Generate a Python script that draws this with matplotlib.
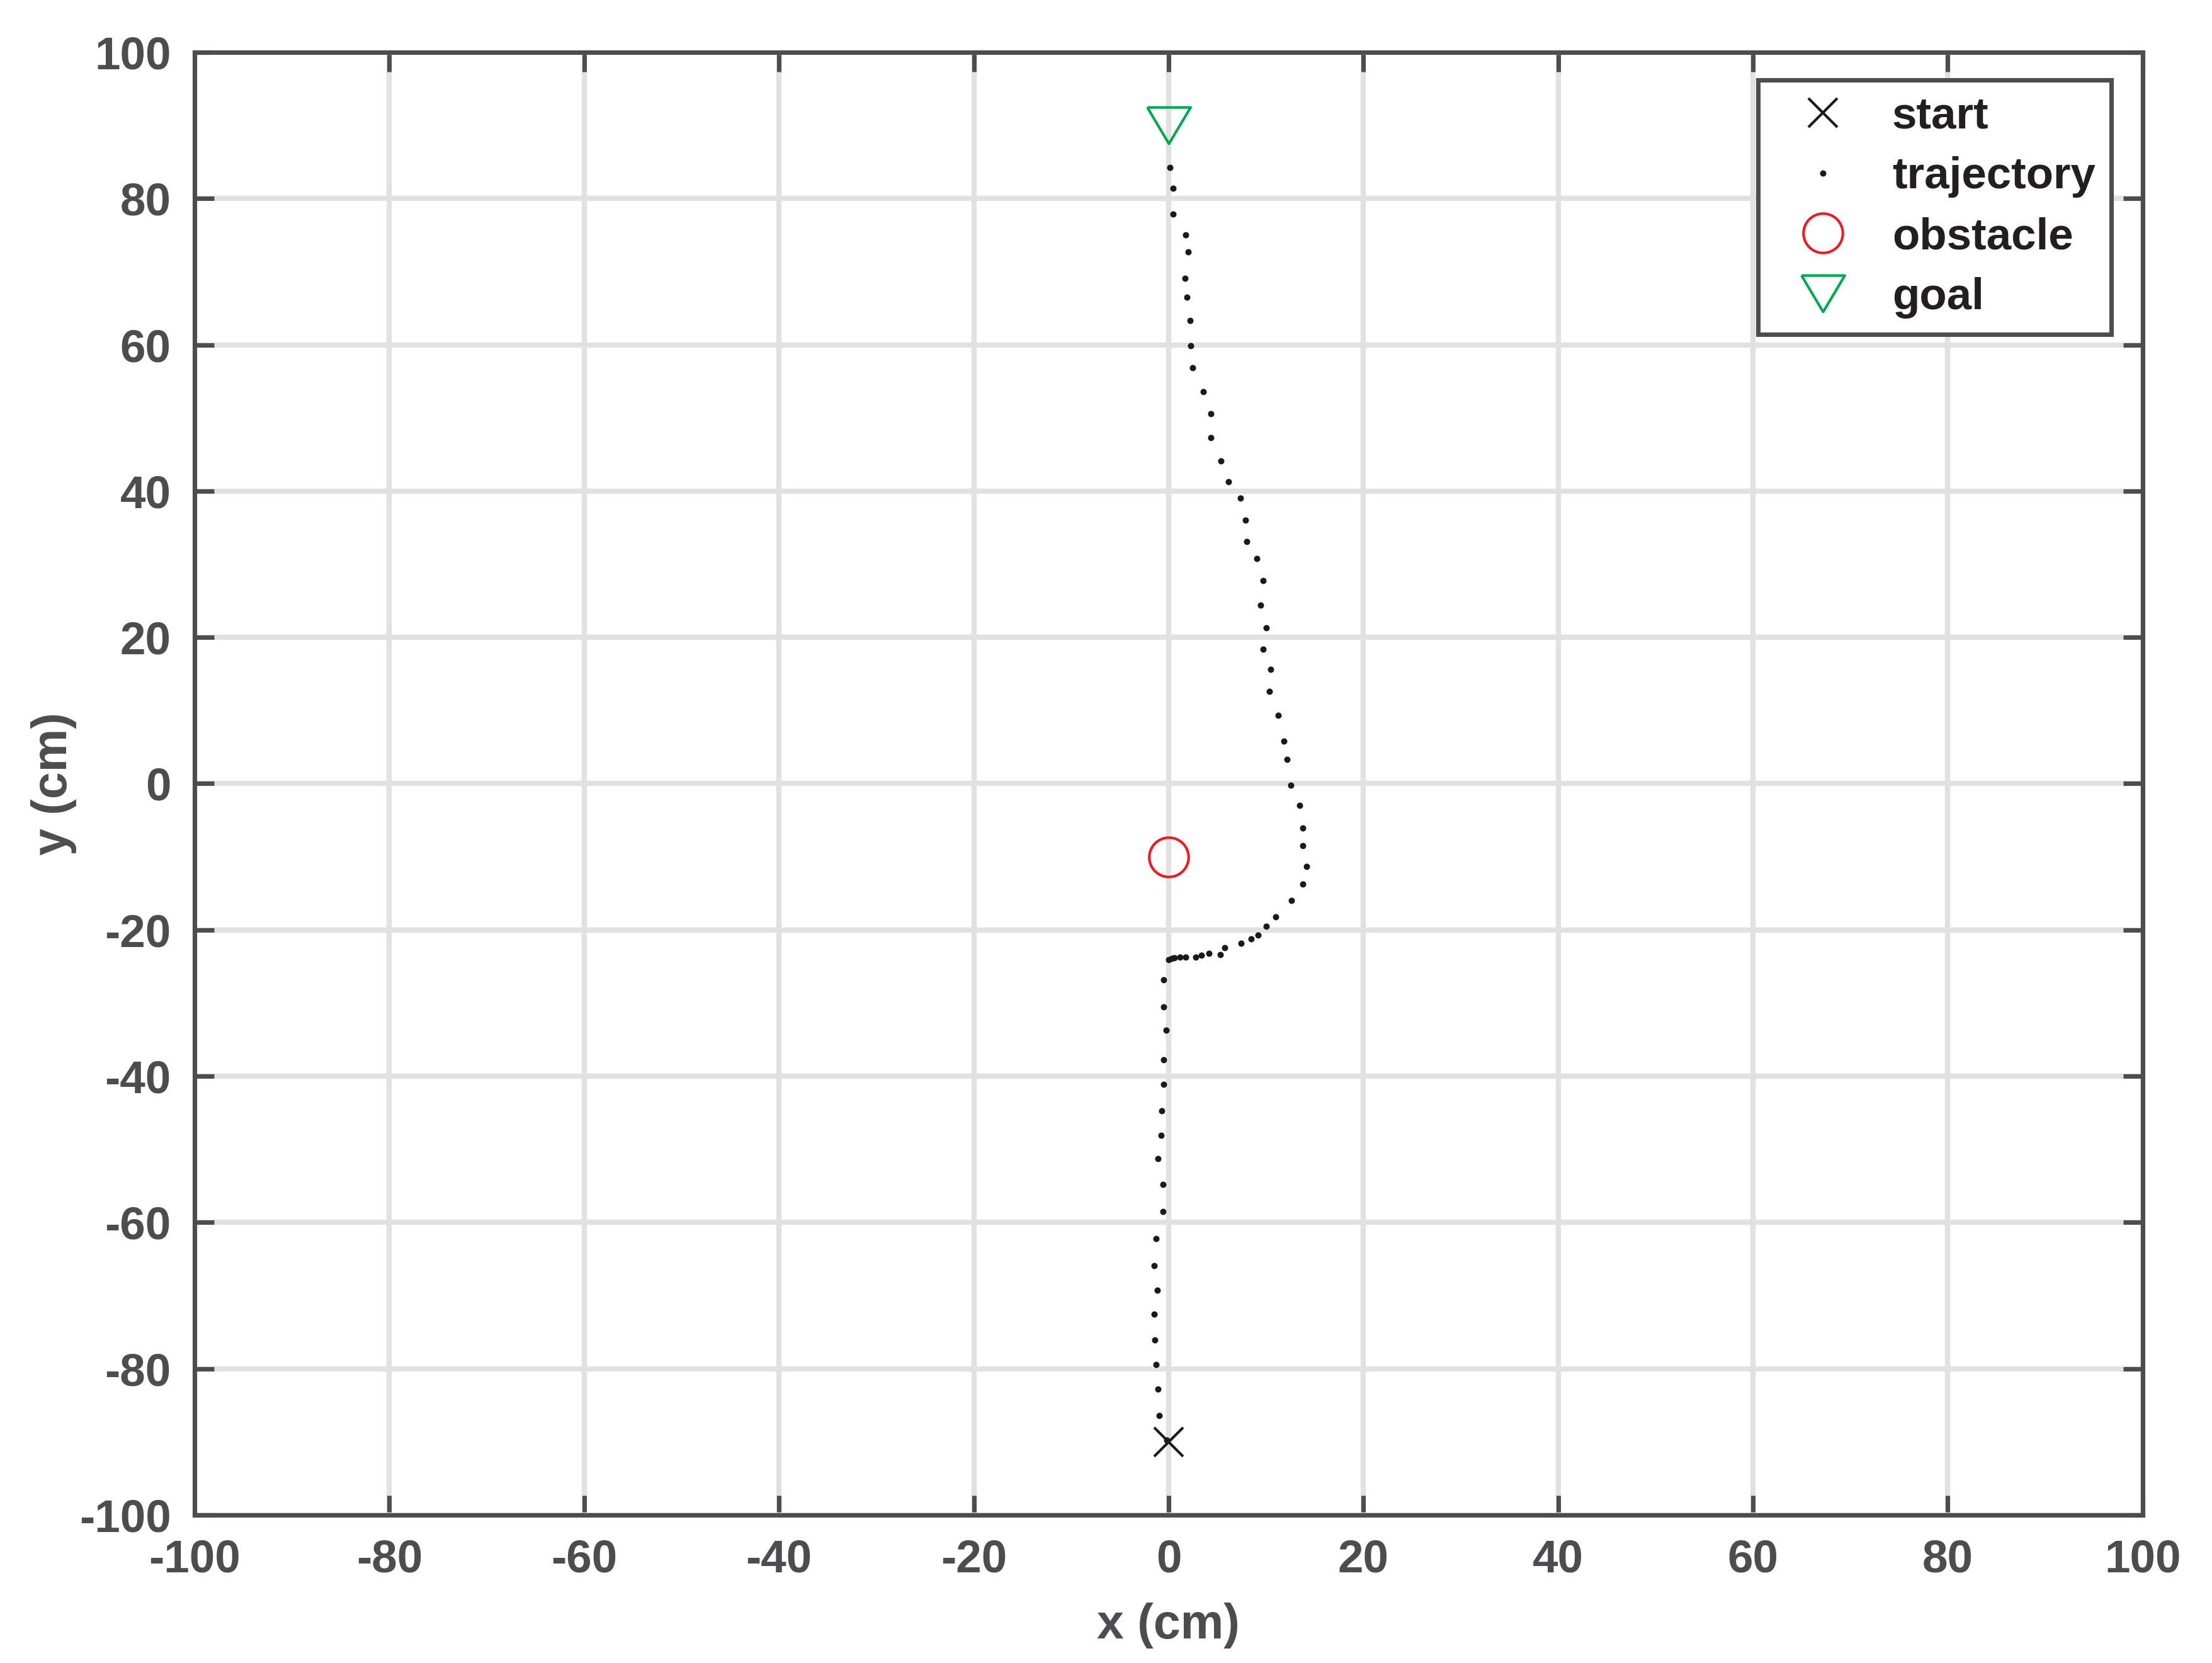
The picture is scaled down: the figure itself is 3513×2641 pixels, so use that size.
import numpy as np
import matplotlib
matplotlib.use('Agg')
import matplotlib.pyplot as plt

# positions in cm
start = (0, -90)
obstacle = (0, -10)
goal = (0, 90)

traj_x = [-0.2, -0.99, -1.09, -1.29, -1.39, -1.48, -1.16, -1.48, -1.29, -0.57,
          -0.58, -1.09, -0.79, -0.73, -0.49, -0.49, -0.28, -0.49, -0.49, 0.0,
          0.32, 0.60, 1.18, 1.72, 2.79, 3.39, 4.16, 5.30, 5.79, 7.45,
          8.48, 9.16, 10.04, 10.97, 12.62, 13.76, 14.14, 13.76, 13.76, 13.45,
          12.55, 12.15, 11.82, 11.24, 10.36, 10.47, 9.68, 10.04, 9.44, 9.68,
          9.06, 8.05, 7.88, 7.36, 6.16, 5.39, 4.36, 4.36, 3.58, 2.47,
          2.30, 2.19, 1.87, 1.67, 1.99, 1.78, 0.47, 0.47, 0.11]
traj_y = [-89.8, -86.4, -82.8, -79.4, -76.1, -72.5, -69.3, -65.9, -62.2, -58.5,
          -54.8, -51.3, -48.1, -44.7, -41.1, -37.8, -33.7, -30.5, -26.8, -24.1,
          -23.9, -23.8, -23.7, -23.7, -23.7, -23.5, -23.2, -23.4, -22.4, -21.8,
          -21.2, -20.7, -19.5, -18.2, -16.0, -13.7, -11.3, -8.5, -6.1, -3.0,
          -0.2, 3.3, 5.8, 9.3, 12.6, 15.6, 18.4, 21.3, 24.4, 27.8,
          30.8, 33.1, 36.0, 39.0, 41.3, 44.1, 47.3, 50.6, 53.6, 56.9,
          59.9, 63.3, 66.5, 69.1, 72.7, 75.0, 77.9, 81.4, 84.2]

ticks = np.arange(-100, 101, 20)

axis_col = '#4D4D4F'
plt.rcParams['font.family'] = ['Liberation Sans', 'DejaVu Sans']
plt.rcParams['font.weight'] = 'bold'
plt.rcParams['axes.unicode_minus'] = False

fig = plt.figure(figsize=(3513 / 300, 2641 / 300), dpi=300)
ax = fig.add_axes([0.088, 0.089, 0.8806, 0.8796])

tri = [(-1, 0.84), (1, 0.84), (0, -0.84), (-1, 0.84)]

ax.plot(start[0], start[1], ls='none', marker='x', ms=11, mew=1.0,
        color='#1a1a1a', label='start', zorder=4)
ax.plot(traj_x, traj_y, ls='none', marker='o', ms=2.4, mew=0,
        color='#1a1a1a', label='trajectory', zorder=3)
ax.plot(obstacle[0], obstacle[1], ls='none', marker='o', ms=15, mew=1.0,
        mfc='none', mec='#ED1C24', label='obstacle', zorder=4)
ax.plot(goal[0], goal[1], ls='none', marker=tri, ms=16.5, mew=1.0,
        mfc='none', mec='#00A650', label='goal', zorder=4)

ax.set_xlim(-100, 100)
ax.set_ylim(-100, 100)
ax.set_xticks(ticks)
ax.set_yticks(ticks)
ax.grid(True, color='#E1E1E3', lw=2.0)
ax.set_axisbelow(True)

for s in ax.spines.values():
    s.set_color(axis_col)
    s.set_linewidth(1.7)
ax.tick_params(direction='in', length=7.5, width=1.7, color=axis_col,
               labelcolor=axis_col, labelsize=17.5, top=True, right=True, pad=9)

ax.set_xlabel('x (cm)', fontsize=18.5, color=axis_col, fontweight='bold', labelpad=8)
ax.set_ylabel('y (cm)', fontsize=18.5, color=axis_col, fontweight='bold', labelpad=1)

leg = ax.legend(loc='upper right', bbox_to_anchor=(0.984, 0.981), fontsize=17,
                fancybox=False, framealpha=1, edgecolor=axis_col,
                borderpad=0.36, labelspacing=0.42, handletextpad=0.45,
                handlelength=2.2, borderaxespad=0)
leg.get_frame().set_linewidth(1.7)
for t in leg.get_texts():
    t.set_color('#231F20')

fig.savefig('out.png', dpi=300)
